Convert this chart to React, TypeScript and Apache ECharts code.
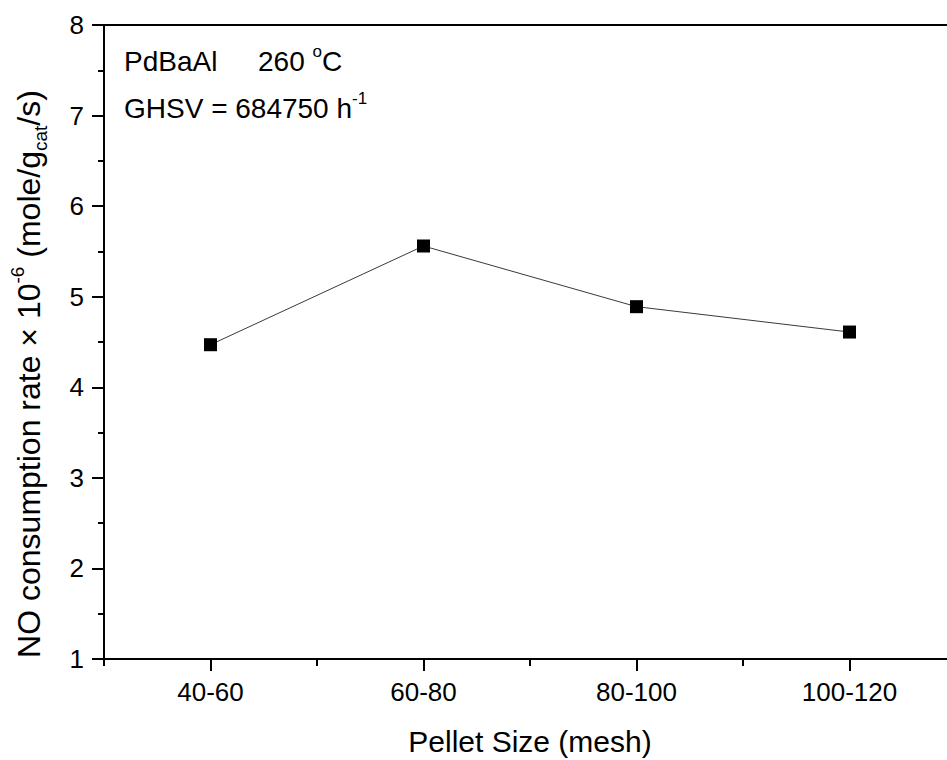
import React, { useEffect, useRef } from "react";
import * as echarts from "echarts";

const categories = ["40-60", "60-80", "80-100", "100-120"];
const rates = [4.47, 5.56, 4.89, 4.61];
const yTicks = [1, 2, 3, 4, 5, 6, 7, 8];
const xMajor = [1, 2, 3, 4];
const xMinor = [0.5, 1.5, 2.5, 3.5];

const FONT = "Liberation Sans, Arial, Helvetica, sans-serif";

export default function App() {
  const ref = useRef<HTMLDivElement>(null);
  useEffect(() => {
    document.body.style.margin = "0";
    document.body.style.overflow = "hidden";
    if (!ref.current) return;
    const chart = echarts.init(ref.current, null, { renderer: "svg" });
    const data = categories.map((c, i) => [i + 1, rates[i]]);
    const black = "#000";
    chart.setOption({
      animation: false,
      backgroundColor: "#fff",
      textStyle: { fontFamily: FONT },
      grid: {
        left: 104,
        top: 25,
        width: 852,
        height: 634,
        containLabel: false,
        outerBoundsMode: "none",
      },
      xAxis: [
        {
          type: "value",
          min: 0.5,
          max: 4.5,
          position: "bottom",
          axisLine: { show: true, onZero: false, lineStyle: { color: black, width: 2 } },
          axisTick: { show: true, customValues: xMajor, length: 12, lineStyle: { color: black, width: 2 } },
          axisLabel: {
            show: true,
            customValues: xMajor,
            formatter: (v: number) => categories[Math.round(v) - 1] ?? "",
            fontSize: 26,
            color: black,
            margin: 20,
            fontFamily: FONT,
          },
          splitLine: { show: false },
        },
        {
          type: "value",
          min: 0.5,
          max: 4.5,
          position: "bottom",
          axisLine: { show: false, onZero: false },
          axisTick: { show: true, customValues: xMinor, length: 7, lineStyle: { color: black, width: 2 } },
          axisLabel: { show: false },
          splitLine: { show: false },
        },
        {
          type: "value",
          min: 0.5,
          max: 4.5,
          position: "top",
          axisLine: { show: true, onZero: false, lineStyle: { color: black, width: 2 } },
          axisTick: { show: false },
          axisLabel: { show: false },
          splitLine: { show: false },
        },
      ],
      yAxis: {
        type: "value",
        min: yTicks[0],
        max: yTicks[yTicks.length - 1],
        interval: 1,
        axisLine: { show: true, onZero: false, lineStyle: { color: black, width: 2 } },
        axisTick: { show: true, length: 12, lineStyle: { color: black, width: 2 } },
        minorTick: { show: true, splitNumber: 2, length: 6, lineStyle: { color: black, width: 2 } },
        axisLabel: { fontSize: 26, color: black, margin: 20, fontFamily: FONT },
        splitLine: { show: false },
        minorSplitLine: { show: false },
      },
      series: [
        {
          type: "line",
          xAxisIndex: 0,
          yAxisIndex: 0,
          data,
          symbol: "rect",
          symbolSize: 13,
          itemStyle: { color: black },
          lineStyle: { color: "#3a3a3a", width: 1 },
          z: 5,
        },
      ],
      graphic: [
        {
          type: "text",
          x: 124,
          y: 61,
          style: {
            text: "PdBaAl",
            fontSize: 28,
            fontFamily: FONT,
            fill: black,
            align: "left",
            verticalAlign: "middle",
          },
        },
        {
          type: "text",
          x: 258,
          y: 61,
          style: {
            text: "{a|260 }{s|o}{a|C}",
            fill: black,
            align: "left",
            verticalAlign: "middle",
            rich: {
              a: { fontSize: 28, fontFamily: FONT, fill: black, lineHeight: 36 },
              s: { fontSize: 17, fontFamily: FONT, fill: black, verticalAlign: "top" },
            },
          },
        },
        {
          type: "text",
          x: 124,
          y: 108,
          style: {
            text: "{a|GHSV = 684750 h}{s|-1}",
            fill: black,
            align: "left",
            verticalAlign: "middle",
            rich: {
              a: { fontSize: 28, fontFamily: FONT, fill: black, lineHeight: 36 },
              s: { fontSize: 17, fontFamily: FONT, fill: black, verticalAlign: "top" },
            },
          },
        },
        {
          type: "text",
          x: 530,
          y: 741,
          style: {
            text: "Pellet Size (mesh)",
            fontSize: 30,
            fontFamily: FONT,
            fill: black,
            align: "center",
            verticalAlign: "middle",
          },
        },
        {
          type: "text",
          x: 29,
          y: 374,
          rotation: Math.PI / 2,
          style: {
            text: "{n|NO consumption rate × 10}{sup|-6}{n| (mole/g}{sub|cat}{n|/s)}",
            fill: black,
            align: "center",
            verticalAlign: "middle",
            rich: {
              n: { fontSize: 32, fontFamily: FONT, fill: black, lineHeight: 42 },
              sup: { fontSize: 19, fontFamily: FONT, fill: black, verticalAlign: "top" },
              sub: { fontSize: 19, fontFamily: FONT, fill: black, verticalAlign: "bottom" },
            },
          },
        },
      ],
    });
    return () => chart.dispose();
  }, []);
  return <div ref={ref} style={{ width: 947, height: 760, overflow: "hidden" }} />;
}
